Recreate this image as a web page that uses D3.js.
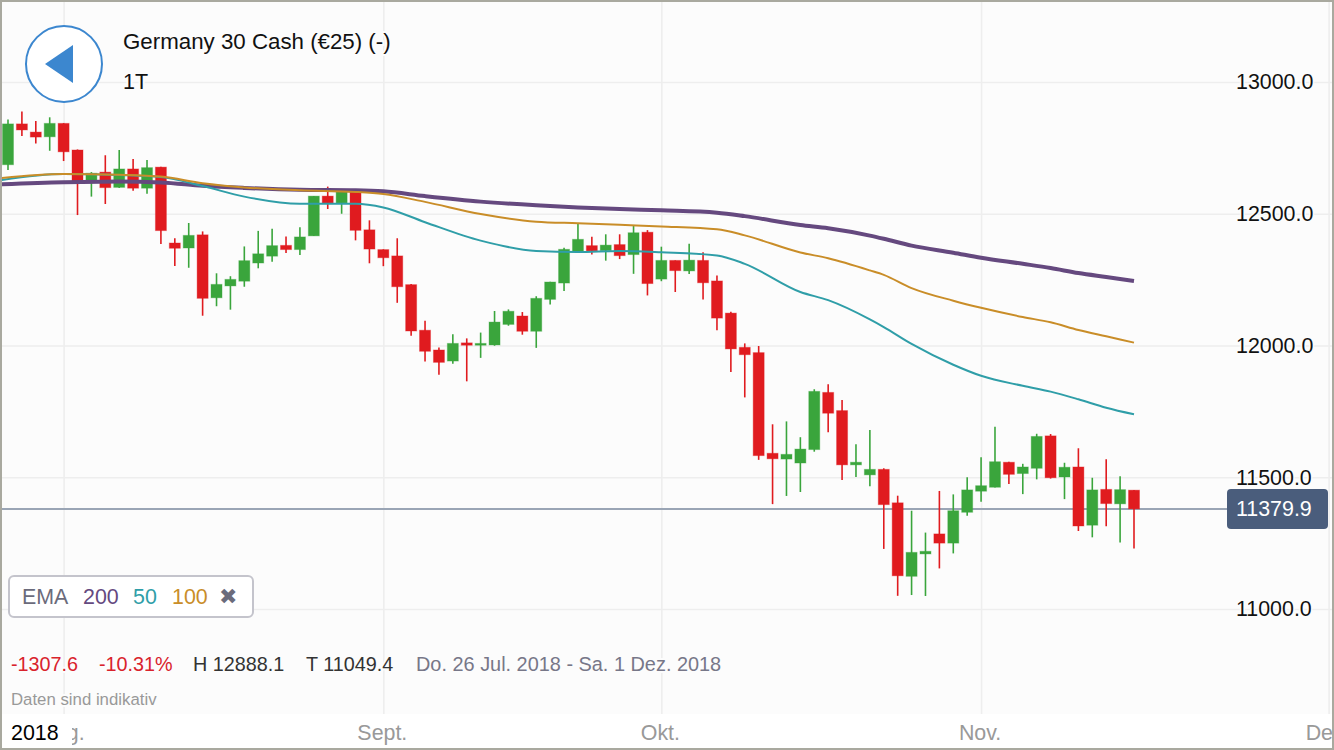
<!DOCTYPE html>
<html>
<head>
<meta charset="utf-8">
<title>Germany 30 Cash</title>
<script src="https://cdn.jsdelivr.net/npm/d3@7"></script>
<style>
    html, body { margin: 0; padding: 0; background: #fff; }
    svg { display: block; font-family: "Liberation Sans", Arial, sans-serif; }
    .grid line { stroke: #eeeeee; stroke-width: 1.6; }
    .grid path, .labels path, .labels line { display: none; }
    .labels text { font-size: 21.4px; paint-order: stroke; stroke: #fcfcfc; stroke-width: 3px; }
</style>
</head>
<body>
<svg id="chart" width="1334" height="750"></svg>
<script>
// Daily candles, 26 Jul 2018 onwards (trading days only)
const opens = [12686, 12841, 12810, 12792, 12843, 12742, 12624, 12658, 12600, 12670, 12597, 12677, 12389, 12370, 12420, 12181, 12226, 12244, 12313, 12339, 12380, 12364, 12416, 12567, 12541, 12586, 12439, 12364, 12340, 12231, 12058, 11983, 11941, 12010, 12001, 12002, 12080, 12112, 12054, 12175, 12237, 12356, 12379, 12360, 12383, 12345, 12430, 12252, 12323, 12283, 12323, 12245, 12123, 11993, 11973, 11591, 11569, 11554, 11605, 11822, 11753, 11547, 11509, 11530, 11403, 11124, 11209, 11285, 11250, 11367, 11447, 11462, 11557, 11514, 11534, 11657, 11501, 11539, 11318, 11454, 11399, 11451];
const highs = [12858, 12888.1, 12852, 12866, 12844, 12744, 12658, 12722, 12742, 12708, 12704, 12678, 12407, 12465, 12433, 12274, 12263, 12376, 12435, 12443, 12414, 12449, 12567, 12603, 12590, 12586, 12475, 12365, 12407, 12233, 12094, 11992, 12043, 12027, 12049, 12131, 12137, 12127, 12187, 12242, 12371, 12464, 12413, 12422, 12422, 12457, 12438, 12375, 12323, 12386, 12354, 12266, 12128, 12008, 11998, 11701, 11712, 11652, 11834, 11853, 11793, 11625, 11679, 11534, 11430, 11373, 11290, 11448, 11435, 11500, 11576, 11692, 11559, 11551, 11665, 11664, 11555, 11610, 11498, 11568, 11504, 11452];
const lows = [12666, 12795, 12767, 12739, 12700, 12495, 12565, 12537, 12598, 12587, 12576, 12385, 12302, 12295, 12113, 12149, 12136, 12223, 12293, 12318, 12351, 12343, 12416, 12518, 12500, 12399, 12312, 12301, 12162, 12037, 11939, 11889, 11931, 11864, 11953, 11999, 12075, 12041, 11991, 12156, 12207, 12355, 12345, 12322, 12328, 12272, 12190, 12244, 12203, 12271, 12175, 12058, 11899, 11803, 11566, 11398, 11429, 11444, 11597, 11671, 11490, 11501, 11466, 11228, 11050, 11053, 11049.4, 11154, 11211, 11354, 11407, 11461, 11474, 11436, 11492, 11495, 11417, 11296, 11272, 11314, 11252, 11230];
const closes = [12841, 12818, 12791, 12843, 12735, 12624, 12654, 12599, 12670, 12597, 12675, 12436, 12369, 12418, 12179, 12232, 12251, 12322, 12348, 12379, 12364, 12412, 12567, 12541, 12586, 12437, 12366, 12333, 12223, 12055, 11978, 11936, 12008, 12001, 12008, 12089, 12130, 12054, 12179, 12241, 12365, 12403, 12359, 12381, 12341, 12428, 12235, 12323, 12284, 12324, 12238, 12104, 11987, 11965, 11582, 11570, 11587, 11607, 11826, 11743, 11547, 11557, 11530, 11396, 11126, 11215, 11219, 11250, 11373, 11452, 11468, 11559, 11511, 11539, 11655, 11498, 11538, 11315, 11452, 11400, 11453, 11379.9];

// EMA lines at these candle positions
const emaSlots = [-1, 4, 8, 11, 14, 17, 21, 25, 27, 30, 34, 38, 41, 44, 47, 51, 53, 57, 59, 62, 63, 65, 68, 70, 73, 75, 77, 79, 81];
const ema200 = [12611, 12620, 12622, 12619, 12606, 12598, 12591, 12589, 12585, 12567, 12546, 12532, 12524, 12518, 12513, 12504, 12491, 12457, 12445, 12417, 12405, 12379, 12352, 12333, 12310, 12294, 12275, 12260, 12245];
const ema50 = [12624, 12651, 12647, 12639, 12605, 12565, 12538, 12538, 12524, 12468, 12398, 12359, 12355, 12359, 12354, 12342, 12310, 12203, 12172, 12099, 12070, 12006, 11927, 11885, 11847, 11825, 11796, 11764, 11739];
const ema100 = [12633, 12651, 12648, 12641, 12616, 12600, 12589, 12583, 12575, 12545, 12499, 12470, 12464, 12458, 12452, 12441, 12418, 12353, 12331, 12285, 12268, 12218, 12170, 12143, 12108, 12088, 12059, 12035, 12011];

const priceTicks = [13000, 12500, 12000, 11500, 11000];
const monthSlots = [4, 27, 47, 70, 95];
const monthLabels = ["Aug.", "Sept.", "Okt.", "Nov.", "Dez."];
const lastPrice = 11379.9;

const UP = "#3aa53c", DOWN = "#e01b1f";
const PURPLE = "#65497f", TEAL = "#2f9ea8", ORANGE = "#c98d28";

const svg = d3.select("#chart");
const width = 1334, height = 750;

const x = d3.scaleLinear().domain([0, 81]).range([8, 1134]);
const y = d3.scaleLinear().domain([11000, 13000]).range([609, 82]);

// Backgrounds
svg.append("rect").attr("width", width).attr("height", height).attr("fill", "#fff");
svg.append("rect").attr("x", 2).attr("y", 2).attr("width", width - 4).attr("height", 712).attr("fill", "#fcfcfc");

svg.append("defs").append("clipPath").attr("id", "plot")
    .append("rect").attr("x", 2).attr("y", 2).attr("width", width - 4).attr("height", 712);

// Grid
svg.append("g").attr("class", "grid")
    .attr("transform", "translate(1332,0)")
    .call(d3.axisLeft(y).tickValues(priceTicks).tickSize(1330).tickFormat(""));
svg.append("g").attr("class", "grid")
    .attr("transform", "translate(0,714)")
    .call(d3.axisTop(x).tickValues(monthSlots).tickSize(712).tickFormat(""));

const plot = svg.append("g").attr("clip-path", "url(#plot)");

// Current price line sits behind the candles
plot.append("line")
    .attr("x1", 2).attr("x2", 1228)
    .attr("y1", y(lastPrice)).attr("y2", y(lastPrice))
    .attr("stroke", "#9aa5b5").attr("stroke-width", 2);

// Candles
const candles = plot.append("g").selectAll("g")
    .data(d3.range(opens.length))
    .join("g")
    .attr("fill", i => closes[i] >= opens[i] ? UP : DOWN)
    .attr("stroke", i => closes[i] >= opens[i] ? UP : DOWN);

candles.append("line")
    .attr("x1", i => x(i)).attr("x2", i => x(i))
    .attr("y1", i => y(highs[i])).attr("y2", i => y(lows[i]))
    .attr("stroke-width", 1.6);

candles.append("rect")
    .attr("x", i => x(i) - 5.5)
    .attr("width", 11)
    .attr("y", i => y(Math.max(opens[i], closes[i])))
    .attr("height", i => Math.abs(y(opens[i]) - y(closes[i])))
    .attr("stroke-opacity", 0.35)
    .attr("stroke-width", 1);

// EMA lines
const emaLine = d3.line()
    .x((d, i) => x(emaSlots[i]))
    .y(d => y(d))
    .curve(d3.curveMonotoneX);

[[ema200, PURPLE, 4], [ema50, TEAL, 2], [ema100, ORANGE, 2]].forEach(([values, color, w]) => {
    plot.append("path")
        .attr("d", emaLine(values))
        .attr("fill", "none")
        .attr("stroke", color)
        .attr("stroke-width", w);
});

// Price axis labels
const priceAxis = svg.append("g").attr("class", "labels")
    .attr("transform", "translate(1236,0)")
    .call(d3.axisRight(y).tickValues(priceTicks).tickSize(0).tickPadding(0).tickFormat(d3.format(".1f")));
priceAxis.selectAll("text").attr("fill", "#111");

// Current price badge
svg.append("rect")
    .attr("x", 1227).attr("y", 489).attr("width", 101).attr("height", 40)
    .attr("rx", 4).attr("fill", "#4a5d7c");
svg.append("text")
    .attr("x", 1236).attr("y", y(lastPrice) + 7.5)
    .attr("fill", "#fff").attr("font-size", 21.4)
    .text(d3.format(".1f")(lastPrice));

// Month axis in the white strip along the bottom
const monthAxis = svg.append("g").attr("class", "labels months")
    .attr("transform", "translate(-1.5,724.5)")
    .call(d3.axisBottom(x).tickValues(monthSlots).tickSize(0).tickPadding(0)
        .tickFormat((d, i) => monthLabels[i]));
monthAxis.selectAll("text").attr("fill", "#999").style("stroke", "none");

svg.append("rect").attr("x", 2).attr("y", 716).attr("width", 70).attr("height", 32).attr("fill", "#fff");
svg.append("text").attr("x", 11).attr("y", 740).attr("font-size", 21.4).attr("fill", "#000").text("2018");

// Back button
svg.append("circle")
    .attr("cx", 64).attr("cy", 64).attr("r", 38)
    .attr("fill", "#fff").attr("stroke", "#3c87cf").attr("stroke-width", 2);
svg.append("path").attr("d", "M45,64L73,45L73,83Z").attr("fill", "#3c87cf");

// Header text
function label(px, py, text, size, color) {
    return svg.append("text")
        .attr("x", px).attr("y", py)
        .attr("font-size", size).attr("fill", color)
        .style("paint-order", "stroke").attr("stroke", "#fcfcfc").attr("stroke-width", 4)
        .text(text);
}
label(123, 49, "Germany 30 Cash (€25) (-)", 22.3, "#111");
label(123, 89, "1T", 21.5, "#111");

// EMA legend
svg.append("rect")
    .attr("x", 9).attr("y", 576).attr("width", 244).attr("height", 41)
    .attr("rx", 5).attr("fill", "#fff").attr("stroke", "#c4c4cc").attr("stroke-width", 2);
const GREY = "#6b6b7b";
svg.append("text").attr("x", 22).attr("y", 604).attr("font-size", 21.4).attr("fill", GREY).text("EMA");
svg.append("text").attr("x", 83).attr("y", 604).attr("font-size", 21.4).attr("fill", PURPLE).text("200");
svg.append("text").attr("x", 133).attr("y", 604).attr("font-size", 21.4).attr("fill", TEAL).text("50");
svg.append("text").attr("x", 172).attr("y", 604).attr("font-size", 21.4).attr("fill", ORANGE).text("100");
svg.append("text").attr("x", 219).attr("y", 604).attr("font-size", 22)
    .attr("font-family", "DejaVu Sans").attr("fill", GREY).text("✖");

// Stats row
label(11, 671, "-1307.6", 19.8, "#d9232c");
label(99, 671, "-10.31%", 19.8, "#d9232c");
label(193, 671, "H 12888.1", 19.8, "#333");
label(306, 671, "T 11049.4", 19.8, "#333");
label(416, 671, "Do. 26 Jul. 2018 - Sa. 1 Dez. 2018", 19.9, "#777788");
label(11, 705, "Daten sind indikativ", 16.8, "#999");

// Frame
svg.append("rect")
    .attr("x", 1).attr("y", 1).attr("width", width - 2).attr("height", height - 2)
    .attr("fill", "none").attr("stroke", "#a9a99f").attr("stroke-width", 2);
</script>
</body>
</html>
